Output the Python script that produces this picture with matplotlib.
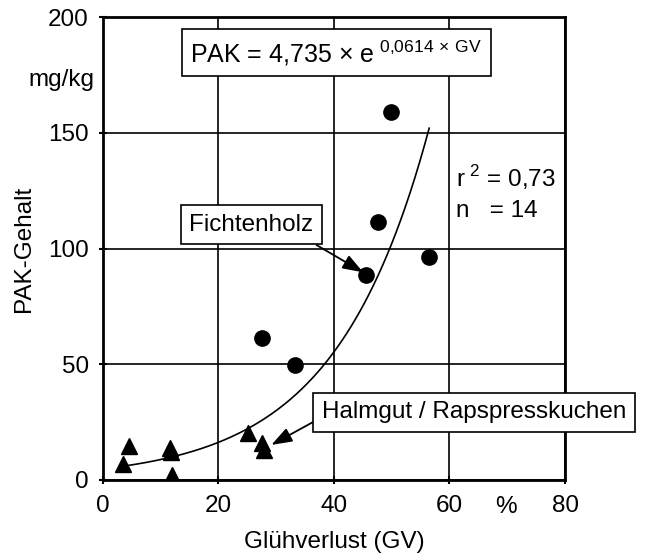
import numpy as np
from matplotlib import pyplot as plt

# Fichtenholz (circles)
gv_holz = [49.9, 47.7, 56.5, 45.6, 27.6, 33.3]
pak_holz = [159.2, 111.4, 96.3, 88.4, 61.4, 49.5]

# Halmgut / Rapspresskuchen (triangles)
gv_halm = [4.5, 11.6, 11.8, 3.5, 12.0, 25.2, 27.5, 28.0]
pak_halm = [14.7, 13.8, 12.0, 6.9, 2.2, 20.1, 15.8, 12.9]

# fit: PAK = a * exp(b * GV)
fit_a = 4.735
fit_b = 0.0614
fit_range = [3.5, 56.5]

xticks = [0, 20, 40, 60, 80]
yticks = [0, 50, 100, 150, 200]

plt.rcParams['font.family'] = ['Liberation Sans', 'DejaVu Sans']
plt.rcParams['mathtext.fontset'] = 'custom'
plt.rcParams['mathtext.rm'] = 'Liberation Sans'

fs = 17.5

fig = plt.figure(figsize=(6.45, 5.56), dpi=100)
ax = fig.add_axes([0.159, 0.137, 0.717, 0.832])

ax.set_xlim(0, 80)
ax.set_ylim(0, 200)
ax.set_xticks(xticks)
ax.set_yticks(yticks)
ax.grid(True, color='black', linewidth=1.2)
ax.set_axisbelow(True)
for s in ax.spines.values():
    s.set_linewidth(2)
ax.tick_params(direction='inout', length=6, width=1.5, labelsize=fs)
ax.tick_params(axis='y', pad=7)
ax.tick_params(axis='x', pad=8)

xs = np.linspace(fit_range[0], fit_range[1], 200)
ax.plot(xs, fit_a * np.exp(fit_b * xs), color='black', linewidth=1.2, zorder=3)

ax.plot(gv_holz, pak_holz, 'o', color='black', markersize=11, zorder=4)
ax.plot(gv_halm, pak_halm, '^', color='black', markersize=12, zorder=4)

box = dict(boxstyle='square,pad=0.35', facecolor='white', edgecolor='black', linewidth=1.2)
arrow = dict(arrowstyle='-|>,head_length=0.7,head_width=0.25', color='black', lw=1.3,
             mutation_scale=18, shrinkA=0, shrinkB=0)

ax.text(15.2, 184.6, 'PAK = 4,735 × e$^{\\ \\mathrm{0{,}0614\\ ×\\ GV}}$', fontsize=fs + 0.5,
        va='center', ha='left', bbox=box, zorder=5)

ax.annotate('Fichtenholz', xy=(45.1, 89.7), xytext=(15.0, 110.2), fontsize=fs,
            va='center', ha='left', bbox=box, zorder=5,
            arrowprops=dict(arrow, relpos=(0.9, 0)))

ax.annotate('Halmgut / Rapspresskuchen', xy=(29.2, 15.1), xytext=(37.9, 29.3), fontsize=fs,
            va='center', ha='left', bbox=box, zorder=5, annotation_clip=False,
            arrowprops=dict(arrow, relpos=(0, 0.26)))

ax.text(61.2, 130.9, 'r$^{\\ \\mathrm{2}}$ = 0,73', fontsize=fs, va='center', ha='left')
ax.text(61.2, 116.3, 'n   = 14', fontsize=fs, va='center', ha='left')

ax.text(69.7, -11.8, '%', fontsize=fs, va='center', ha='center')
fig.text(0.146, 0.856, 'mg/kg', fontsize=fs, ha='right', va='center')

fig.text(0.518, 0.025, 'Glühverlust (GV)', fontsize=fs, ha='center', va='center')
fig.text(0.037, 0.553, 'PAK-Gehalt', fontsize=fs, ha='center', va='center', rotation=90)

fig.savefig('out.png', dpi=100)
